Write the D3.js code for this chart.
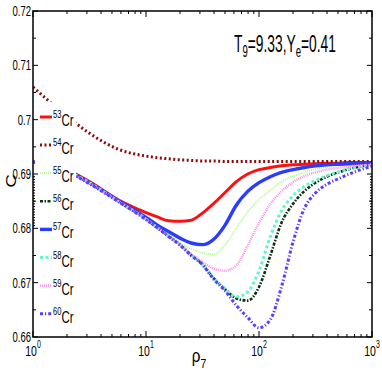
<!DOCTYPE html>
<html>
<head>
<meta charset="utf-8">
<script src="https://cdn.jsdelivr.net/npm/d3@7"></script>
<style>
  body { margin: 0; background: #fff; }
  text { font-family: "Liberation Sans Narrow", "Liberation Sans", Arial, sans-serif; fill: #000; }
</style>
</head>
<body>
<div id="chart"></div>
<script>
// density grid (rho_7) and specific heat C for each Cr isotope
var rho = [1, 1.78, 3.16, 5.62, 10, 12.6, 15.8, 20, 25.1, 31.6, 39.8, 50.1, 63.1, 79.4,
           100, 126, 158, 200, 251, 316, 398, 501, 631, 794, 1000];

var cr53 = [0.6922,0.6912,0.6886,0.6853,0.6829,0.6821,0.6814,0.6813,0.6815,0.6828,0.6846,0.6866,0.6886,
            0.6900,0.6908,0.6912,0.6915,0.6917,0.6918,0.6919,0.6920,0.6920,0.6921,0.6921,0.6921];
var cr54 = [0.7060,0.7015,0.6975,0.6946,0.6933,0.6930,0.6928,0.6926,0.6925,0.6924,0.6924,0.6923,0.6923,
            0.6923,0.6923,0.6923,0.6923,0.6923,0.6923,0.6923,0.6923,0.6923,0.6923,0.6923,0.6923];
var cr55 = [0.6922,0.6911,0.6884,0.6851,0.6818,0.6803,0.6788,0.6773,0.6762,0.6755,0.6752,0.6770,0.6800,
            0.6830,0.6853,0.6870,0.6886,0.6896,0.6903,0.6909,0.6912,0.6915,0.6917,0.6918,0.6919];
var cr56 = [0.6922,0.6910,0.6884,0.6850,0.6817,0.6801,0.6786,0.6770,0.6751,0.6734,0.6708,0.6688,0.6671,
            0.6667,0.6692,0.6750,0.6810,0.6845,0.6868,0.6884,0.6895,0.6903,0.6909,0.6914,0.6917];
var cr57 = [0.6922,0.6911,0.6884,0.6852,0.6820,0.6806,0.6794,0.6782,0.6773,0.6770,0.6780,0.6806,0.6843,
            0.6868,0.6884,0.6895,0.6903,0.6908,0.6912,0.6915,0.6917,0.6918,0.6919,0.6920,0.6920];
var cr58 = [0.6922,0.6910,0.6884,0.6850,0.6817,0.6801,0.6786,0.6770,0.6751,0.6734,0.6708,0.6689,0.6674,
            0.6683,0.6722,0.6785,0.6832,0.6860,0.6877,0.6888,0.6897,0.6904,0.6910,0.6914,0.6917];
var cr59 = [0.6922,0.6910,0.6883,0.6851,0.6817,0.6802,0.6786,0.6770,0.6753,0.6738,0.6726,0.6722,0.6732,
            0.6768,0.6810,0.6845,0.6868,0.6885,0.6896,0.6903,0.6908,0.6911,0.6914,0.6916,0.6917];
var cr60 = [0.6922,0.6910,0.6882,0.6850,0.6816,0.6801,0.6785,0.6769,0.6750,0.6733,0.6706,0.6685,0.6658,
            0.6636,0.6617,0.6632,0.6692,0.6775,0.6836,0.6865,0.6881,0.6891,0.6900,0.6908,0.6914];

var isotopes = ['53', '54', '55', '56', '57', '58', '59', '60'];
var values = [cr53, cr54, cr55, cr56, cr57, cr58, cr59, cr60];
var yTicks = [0.66, 0.67, 0.68, 0.69, 0.7, 0.71, 0.72];
var yTickLabels = ['0.66', '0.67', '0.68', '0.69', '0.7', '0.71', '0.72'];
var xTicks = [1, 10, 100, 1000];
var xTickExp = ['0', '1', '2', '3'];

// line styles
var styles = [
  { color: '#ff1010', width: 3,   dash: null },
  { color: '#8b0a0a', width: 3,   dash: '2,2.5' },
  { color: '#a8ff8a', width: 1.8, dash: '1,1' },
  { color: '#0c300c', width: 2.6, dash: '3,1.5,1.5,1.5' },
  { color: '#2a3cff', width: 3.4, dash: null },
  { color: '#66f5cc', width: 3,   dash: '3,2.5' },
  { color: '#ff8cec', width: 2.4, dash: '1,1' },
  { color: '#5a3cff', width: 3,   dash: '3,2,1.2,2' }
];

var W = 382, H = 382;
var x0 = 33, x1 = 372, y0 = 11, y1 = 337;

var svg = d3.select('#chart').append('svg')
    .attr('width', W).attr('height', H);

var x = d3.scaleLog().domain([1, 1000]).range([x0, x1]);
var y = d3.scaleLinear().domain([0.66, 0.72]).range([y1, y0]);

svg.append('clipPath').attr('id', 'clip')
  .append('rect').attr('x', x0).attr('y', y0).attr('width', x1 - x0).attr('height', y1 - y0);

var line = d3.line()
    .x(function(d) { return x(d[0]); })
    .y(function(d) { return y(d[1]); })
    .curve(d3.curveMonotoneX);

var plot = svg.append('g').attr('clip-path', 'url(#clip)');
values.forEach(function(vals, i) {
  var s = styles[i];
  plot.append('path')
    .datum(rho.map(function(r, j) { return [r, vals[j]]; }))
    .attr('d', line)
    .attr('fill', 'none')
    .attr('stroke', s.color)
    .attr('stroke-width', s.width)
    .attr('stroke-dasharray', s.dash);
});

// legend (white box covers the curves)
var lg = svg.append('g');
lg.append('rect').attr('x', 35).attr('y', 102).attr('width', 41).attr('height', 226).attr('fill', '#fff');
isotopes.forEach(function(iso, i) {
  var s = styles[i];
  var ly = 117 + i * 28.1;
  lg.append('line')
    .attr('x1', 40).attr('x2', 52).attr('y1', ly).attr('y2', ly)
    .attr('stroke', s.color).attr('stroke-width', s.width)
    .attr('stroke-dasharray', s.dash);
  var t = lg.append('text')
    .attr('transform', 'translate(53,' + (ly + 9) + ') scale(0.72,1)')
    .style('font-size', '16px');
  t.append('tspan').attr('dy', -8).style('font-size', '10.5px').text(iso);
  t.append('tspan').attr('dy', 8).text('Cr');
});

// axes: frame + ticks (inward on all sides)
var ax = svg.append('g');
ax.append('rect').attr('x', x0).attr('y', y0).attr('width', x1 - x0).attr('height', y1 - y0)
  .attr('fill', 'none').attr('stroke', '#000').attr('stroke-width', 1.5);

var xMinor = [];
[1, 10, 100].forEach(function(b) { for (var k = 2; k <= 9; k++) xMinor.push(b * k); });
xMinor.forEach(function(v) {
  ax.append('line').attr('x1', x(v)).attr('x2', x(v)).attr('y1', y1).attr('y2', y1 - 3).attr('stroke', '#000');
  ax.append('line').attr('x1', x(v)).attr('x2', x(v)).attr('y1', y0).attr('y2', y0 + 3).attr('stroke', '#000');
});
xTicks.forEach(function(v) {
  ax.append('line').attr('x1', x(v)).attr('x2', x(v)).attr('y1', y1).attr('y2', y1 - 6).attr('stroke', '#000');
  ax.append('line').attr('x1', x(v)).attr('x2', x(v)).attr('y1', y0).attr('y2', y0 + 6).attr('stroke', '#000');
});

var yMinor = d3.range(0.665, 0.72, 0.01);
var yFine = d3.range(0.6805, 0.69, 0.0005);
yMinor.forEach(function(v) {
  ax.append('line').attr('x1', x0).attr('x2', x0 + 3).attr('y1', y(v)).attr('y2', y(v)).attr('stroke', '#000');
  ax.append('line').attr('x1', x1).attr('x2', x1 - 3).attr('y1', y(v)).attr('y2', y(v)).attr('stroke', '#000');
});
yFine.forEach(function(v) {
  ax.append('line').attr('x1', x0).attr('x2', x0 + 2).attr('y1', y(v)).attr('y2', y(v)).attr('stroke', '#000');
  ax.append('line').attr('x1', x1).attr('x2', x1 - 2).attr('y1', y(v)).attr('y2', y(v)).attr('stroke', '#000');
});
yTicks.forEach(function(v) {
  ax.append('line').attr('x1', x0).attr('x2', x0 + 5).attr('y1', y(v)).attr('y2', y(v)).attr('stroke', '#000');
  ax.append('line').attr('x1', x1).attr('x2', x1 - 5).attr('y1', y(v)).attr('y2', y(v)).attr('stroke', '#000');
});

// tick labels
yTicks.forEach(function(v, i) {
  svg.append('text')
    .attr('transform', 'translate(31,' + (y(v) + 5) + ') scale(0.68,1)')
    .attr('text-anchor', 'end')
    .style('font-size', '14px')
    .text(yTickLabels[i]);
});
xTicks.forEach(function(v, i) {
  var t = svg.append('text')
    .attr('transform', 'translate(' + x(v) + ',356) scale(0.7,1)')
    .attr('text-anchor', 'middle')
    .style('font-size', '15px');
  t.append('tspan').text('10');
  t.append('tspan').attr('dy', -8).style('font-size', '10px').text(xTickExp[i]);
});

// axis titles
var xl = svg.append('text')
  .attr('transform', 'translate(199,362) scale(0.8,1)')
  .attr('text-anchor', 'middle')
  .style('font-size', '19px');
xl.append('tspan').text('\u03c1');
xl.append('tspan').attr('dy', 6).style('font-size', '13px').text('7');

svg.append('text')
  .attr('transform', 'translate(16,181) rotate(-90) scale(1,0.8)')
  .attr('text-anchor', 'middle')
  .style('font-size', '19px')
  .text('C');

// title
var tt = svg.append('text')
  .attr('transform', 'translate(285,52) scale(0.6,1)')
  .attr('text-anchor', 'middle')
  .style('font-size', '23px');
tt.append('tspan').text('T');
tt.append('tspan').attr('dy', 5).style('font-size', '16px').text('9');
tt.append('tspan').attr('dy', -5).text('=9.33,Y');
tt.append('tspan').attr('dy', 5).style('font-size', '16px').text('e');
tt.append('tspan').attr('dy', -5).text('=0.41');
</script>
</body>
</html>
